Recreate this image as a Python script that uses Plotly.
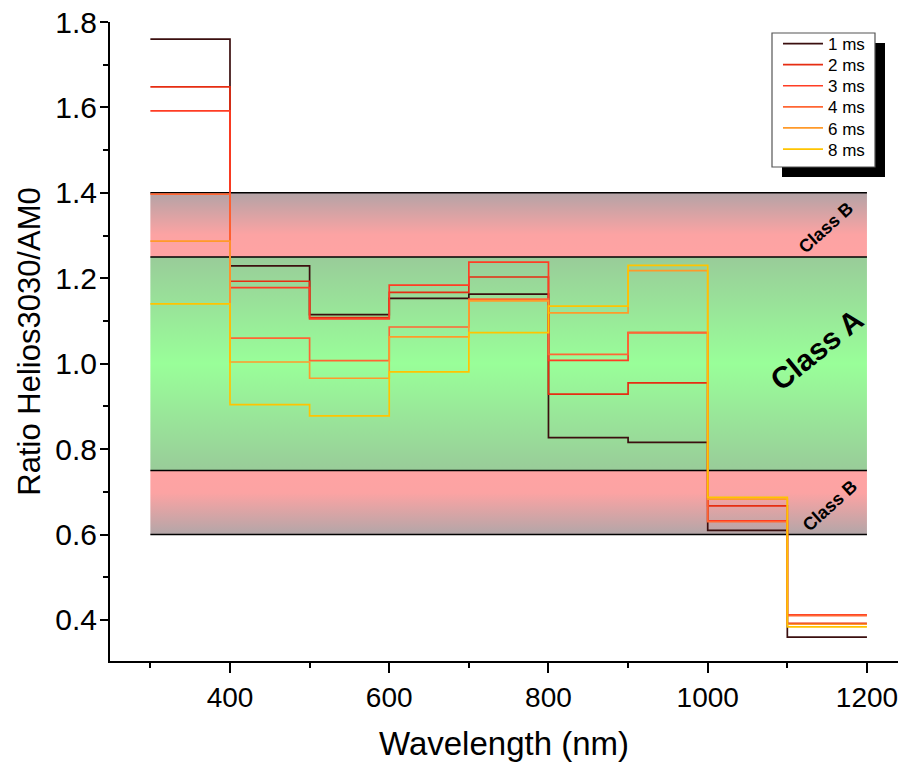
import plotly.graph_objects as go

# ---- data ----
edges = [300, 400, 500, 600, 700, 800, 900, 1000, 1100, 1200]
series_names = ["1 ms", "2 ms", "3 ms", "4 ms", "6 ms", "8 ms"]
ratio_1ms = [1.760, 1.229, 1.115, 1.153, 1.163, 0.827, 0.816, 0.610, 0.360]
ratio_2ms = [1.648, 1.193, 1.108, 1.167, 1.203, 0.929, 0.955, 0.667, 0.392]
ratio_3ms = [1.592, 1.178, 1.105, 1.184, 1.238, 1.008, 1.073, 0.632, 0.412]
ratio_4ms = [1.397, 1.060, 1.007, 1.086, 1.151, 1.022, 1.073, 0.630, 0.410]
ratio_6ms = [1.287, 1.004, 0.966, 1.063, 1.147, 1.119, 1.218, 0.683, 0.390]
ratio_8ms = [1.140, 0.904, 0.878, 0.981, 1.073, 1.135, 1.230, 0.687, 0.384]
all_series = [ratio_1ms, ratio_2ms, ratio_3ms, ratio_4ms, ratio_6ms, ratio_8ms]
colors = ["#3b0f0f", "#e62d12", "#ff3d24", "#ff6633", "#ff9a2a", "#ffc400"]

class_a = [0.75, 1.25]
class_b_low = [0.60, 0.75]
class_b_high = [1.25, 1.40]
x_span = [300, 1200]

x_ticks = [400, 600, 800, 1000, 1200]
y_ticks = [0.4, 0.6, 0.8, 1.0, 1.2, 1.4, 1.6, 1.8]

FONT = "Liberation Sans, Arial"

# plot-area geometry (px) used to place the legend entries in paper space
PLOT_LEFT, PLOT_RIGHT, PLOT_TOP, PLOT_BOTTOM = 110, 898, 22, 661
def px_to_paper_y(py):
    return (PLOT_BOTTOM - py) / (PLOT_BOTTOM - PLOT_TOP)
legend_first_px, legend_step_px = 44, 21.1

fig = go.Figure()

def band(lo, hi, scale):
    fig.add_trace(go.Scatter(
        x=[x_span[0], x_span[1], x_span[1], x_span[0], x_span[0]],
        y=[lo, lo, hi, hi, lo],
        mode="none", fill="toself",
        fillgradient=dict(type="vertical", colorscale=scale),
        showlegend=False, hoverinfo="skip"))

band(class_b_high[0], class_b_high[1],
     [[0, "#ffa3a3"], [0.35, "#fca3a3"], [1, "#b3a3a6"]])
band(class_a[0], class_a[1],
     [[0, "#99cc99"], [0.5, "#99ff99"], [1, "#99cc99"]])
band(class_b_low[0], class_b_low[1],
     [[0, "#b2a6a8"], [0.65, "#fca3a3"], [1, "#ffa3a3"]])

for lvl in sorted(set(class_a + class_b_low + class_b_high)):
    fig.add_trace(go.Scatter(x=x_span, y=[lvl, lvl], mode="lines",
                             line=dict(color="black", width=1.5),
                             showlegend=False, hoverinfo="skip"))

legend_layouts = {}
for i, (name, vals, col) in enumerate(zip(series_names, all_series, colors)):
    lg = "legend" if i == 0 else f"legend{i + 1}"
    fig.add_trace(go.Scatter(
        x=edges, y=vals + [vals[-1]], mode="lines", name=name, legend=lg,
        line=dict(color=col, width=1.7, shape="hv")))
    legend_layouts[lg] = dict(
        x=0.8477, y=px_to_paper_y(legend_first_px + i * legend_step_px),
        xanchor="left", yanchor="middle",
        bgcolor="rgba(0,0,0,0)", borderwidth=0,
        font=dict(size=17), itemwidth=40)

fig.add_annotation(x=1137, y=1.034, text="<b>Class A</b>", showarrow=False,
                   textangle=-39, font=dict(size=30, color="black", family=FONT))
fig.add_annotation(x=1148, y=1.318, text="<b>Class B</b>", showarrow=False,
                   textangle=-42, font=dict(size=18, color="black", family=FONT))
fig.add_annotation(x=1153, y=0.667, text="<b>Class B</b>", showarrow=False,
                   textangle=-42, font=dict(size=18, color="black", family=FONT))

# legend shadow and frame (legend entries drawn transparent on top)
fig.add_shape(type="rect", xref="paper", yref="paper",
              x0=0.8528, x1=0.9835, y0=0.7574, y1=0.9671,
              fillcolor="black", line=dict(width=0), layer="above")
fig.add_shape(type="rect", xref="paper", yref="paper",
              x0=0.8401, x1=0.9708, y0=0.7731, y1=0.9828,
              fillcolor="white", line=dict(width=1.2, color="#555555"), layer="above")

fig.update_layout(
    width=900, height=762,
    margin=dict(l=PLOT_LEFT, r=900 - PLOT_RIGHT, t=PLOT_TOP, b=762 - PLOT_BOTTOM),
    plot_bgcolor="white", paper_bgcolor="white",
    font=dict(family=FONT, color="black"),
    **legend_layouts,
)
fig.update_xaxes(
    range=[249.3, 1239], tickvals=x_ticks, ticks="outside", ticklen=10,
    tickwidth=1.5, tickcolor="black", automargin=False,
    showline=True, linecolor="black", linewidth=2, showgrid=False, zeroline=False,
    tickfont=dict(size=28),
    title=dict(text="Wavelength (nm)", standoff=22, font=dict(size=33)),
    minor=dict(dtick=100, tick0=300, ticks="outside", ticklen=5, tickwidth=1.5,
               tickcolor="black", showgrid=False),
)
fig.update_yaxes(
    range=[0.304, 1.8], tickvals=y_ticks, tickformat=".1f", ticks="outside",
    ticklen=8, tickwidth=1.5, tickcolor="black", automargin=False,
    ticklabelstandoff=-3,
    showline=True, linecolor="black", linewidth=2, showgrid=False, zeroline=False,
    tickfont=dict(size=30),
    title=dict(text="Ratio Helios3030/AM0", standoff=5, font=dict(size=31)),
    minor=dict(dtick=0.1, tick0=0.3, ticks="outside", ticklen=5, tickwidth=1.5,
               tickcolor="black", showgrid=False),
)

fig.write_html("out.html", config={"displayModeBar": False},
               post_script="document.body.style.margin='0px';")
